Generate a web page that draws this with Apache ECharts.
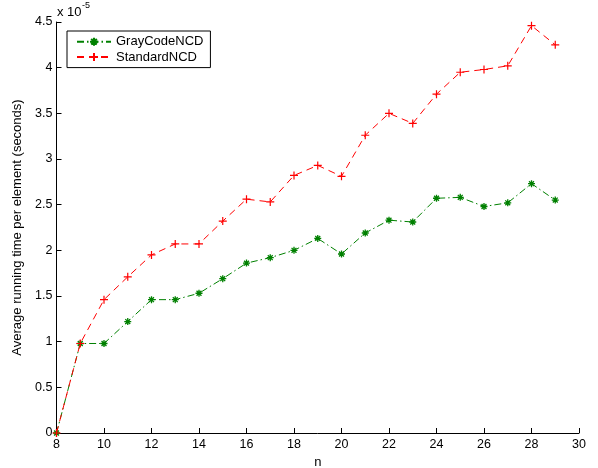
<!DOCTYPE html>
<html>
<head>
<meta charset="utf-8">
<script src="https://cdn.jsdelivr.net/npm/echarts@6/dist/echarts.min.js"></script>
<style>html,body{margin:0;padding:0;background:#fff}#c{width:598px;height:468px}</style>
</head>
<body>
<div id="c"></div>
<script>
// values in units of 1e-5 seconds
var nValues = [8, 9, 10, 11, 12, 13, 14, 15, 16, 17, 18, 19, 20, 21, 22, 23, 24, 25, 26, 27, 28, 29];
var grayCodeNCD = [0, 0.98, 0.98, 1.22, 1.46, 1.46, 1.53, 1.69, 1.86, 1.92, 2.00, 2.13, 1.96, 2.19, 2.33, 2.31, 2.57, 2.58, 2.48, 2.52, 2.73, 2.55];
var standardNCD = [0, 0.98, 1.46, 1.71, 1.95, 2.07, 2.07, 2.32, 2.56, 2.53, 2.82, 2.93, 2.81, 3.26, 3.50, 3.39, 3.71, 3.95, 3.98, 4.02, 4.46, 4.25];
var seriesNames = ['GrayCodeNCD', 'StandardNCD'];
var xTitle = 'n';
var yTitle = 'Average running time per element (seconds)';
var exponentBase = 'x 10';
var exponentPower = '-5';

function pairs(xs, ys) { return xs.map(function (x, i) { return [x, ys[i]]; }); }

var FONT = 'Liberation Sans, Arial, sans-serif';
var chart = echarts.init(document.getElementById('c'), null, { renderer: 'canvas' });
chart.setOption({
  animation: false,
  backgroundColor: '#fff',
  textStyle: { fontFamily: FONT },
  grid: { left: 56.5, right: 19, top: 22, bottom: 35, containLabel: false, outerBoundsMode: 'none' },
  legend: {
    orient: 'vertical',
    left: 67, top: 31,
    padding: [4, 7, 4, 9],
    itemGap: 2,
    itemWidth: 34, itemHeight: 10,
    borderColor: '#000', borderWidth: 1,
    backgroundColor: '#fff',
    textStyle: { fontFamily: FONT, fontSize: 13, color: '#000', lineHeight: 13.3 },
    data: seriesNames
  },
  xAxis: {
    type: 'value', min: 8, max: 30, interval: 2,
    name: xTitle, nameLocation: 'middle', nameGap: 18,
    nameTextStyle: { fontFamily: FONT, fontSize: 13, color: '#000' },
    axisLine: { show: true, onZero: false, lineStyle: { color: '#000', width: 1 } },
    axisTick: { show: true, inside: true, length: 5, lineStyle: { color: '#000' } },
    axisLabel: { fontFamily: FONT, fontSize: 12.5, color: '#000', margin: 5 },
    splitLine: { show: false }
  },
  yAxis: {
    type: 'value', min: 0, max: 4.5, interval: 0.5,
    name: yTitle, nameLocation: 'middle', nameGap: 29,
    nameTextStyle: { fontFamily: FONT, fontSize: 13, color: '#000' },
    axisLine: { show: true, onZero: false, lineStyle: { color: '#000', width: 1 } },
    axisTick: { show: true, inside: true, length: 5, lineStyle: { color: '#000' } },
    axisLabel: { fontFamily: FONT, fontSize: 12.5, color: '#000', margin: 4 },
    splitLine: { show: false }
  },
  graphic: [{
    type: 'text', x: 57, y: 12.5,
    style: { text: exponentBase, font: '13px ' + FONT, fill: '#000', verticalAlign: 'middle', align: 'left' }
  }, {
    type: 'text', x: 82, y: 6,
    style: { text: exponentPower, font: '9px ' + FONT, fill: '#000', verticalAlign: 'middle', align: 'left' }
  }],
  series: [{
    name: seriesNames[0], type: 'line',
    data: pairs(nValues, grayCodeNCD),
    color: '#008000',
    symbol: 'path://M0,-1L0,1M-1,0L1,0M-0.7,-0.7L0.7,0.7M-0.7,0.7L0.7,-0.7',
    symbolSize: 7, symbolKeepAspect: true,
    showSymbol: true,
    itemStyle: { color: '#008000', borderColor: '#008000', borderWidth: 1.3 },
    lineStyle: { color: '#008000', width: 1, type: [7, 3, 1.5, 3] },
    z: 2
  }, {
    name: seriesNames[1], type: 'line',
    data: pairs(nValues, standardNCD),
    color: '#ff0000',
    symbol: 'path://M0,-1L0,1M-1,0L1,0',
    symbolSize: 8, symbolKeepAspect: true,
    itemStyle: { color: '#ff0000', borderColor: '#ff0000', borderWidth: 1.2 },
    lineStyle: { color: '#ff0000', width: 1, type: [7, 5] },
    z: 3
  }]
});
</script>
</body>
</html>
